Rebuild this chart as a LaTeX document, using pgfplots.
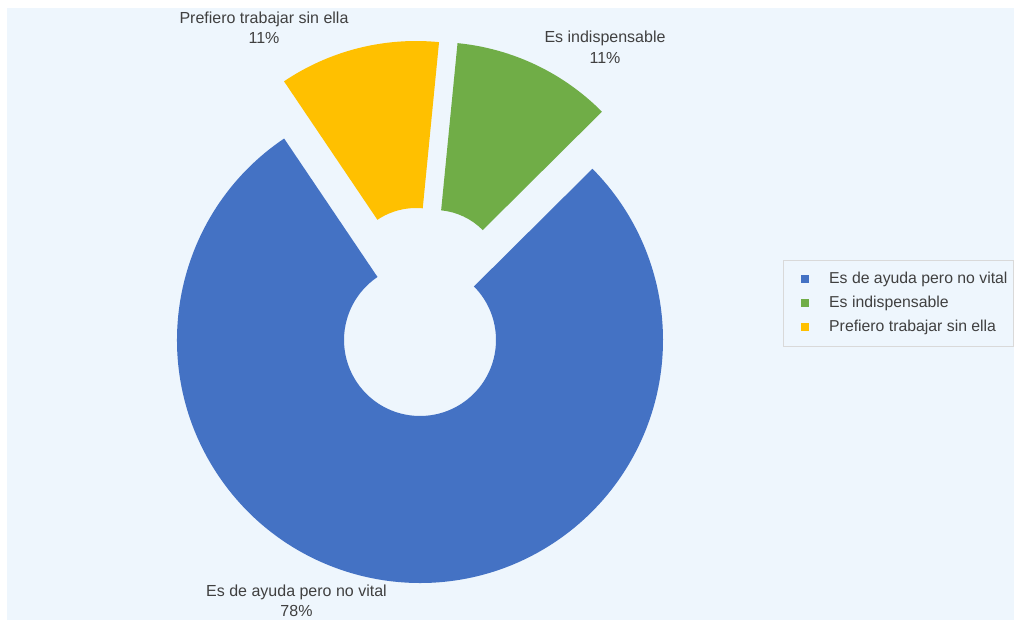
\documentclass[border=0pt]{standalone}
\usepackage{fontspec}
\setmainfont{Liberation Sans}
\usepackage{pgfplots}
\usepackage{pgfplotstable}
\pgfplotsset{compat=1.18}
\usetikzlibrary{calc}

\definecolor{bgblue}{RGB}{238,246,253}
\definecolor{sliceblue}{RGB}{68,114,196}
\definecolor{slicegreen}{RGB}{112,173,71}
\definecolor{sliceyellow}{RGB}{255,192,0}
\definecolor{labelgray}{RGB}{64,64,64}
\definecolor{legendframe}{RGB}{217,217,217}

% share of answers (%)
\pgfplotstableread{
idx value
0 78
1 11
2 11
}\sharetable

\begin{document}
\begin{tikzpicture}
\pgfplotstablegetelem{0}{value}\of\sharetable \edef\vBlue{\pgfplotsretval}
\pgfplotstablegetelem{1}{value}\of\sharetable \edef\vGreen{\pgfplotsretval}
\pgfplotstablegetelem{2}{value}\of\sharetable \edef\vYellow{\pgfplotsretval}
% angles, counter-clockwise from the green slice
\pgfmathsetmacro\aA{44.8}
\pgfmathsetmacro\aB{\aA+3.6*\vGreen}
\pgfmathsetmacro\aC{\aB+3.6*\vYellow}
\pgfmathsetmacro\aD{\aC+3.6*\vBlue}
\begin{axis}[
    width=1014pt, height=620pt, scale only axis,
    xmin=0, xmax=1014, ymin=0, ymax=620,
    hide axis, clip=false,
    legend cell align=left,
    legend image code/.code={\path (0pt,0pt); \fill[#1] (14pt,-4pt) rectangle (22pt,4pt);},
    legend style={at={(axis cs:783,360)}, anchor=north west,
        draw=legendframe, fill=none, text=labelgray,
        font=\fontsize{15.8}{18}\selectfont,
        inner xsep=4pt, inner ysep=10pt,
        nodes={inner sep=2pt, text height=11pt, text depth=3pt},
        row sep=6pt, column sep=18pt},
]
\fill[bgblue] (axis cs:7,0) rectangle (axis cs:1014,612);

% blue slice (not exploded)
\fill[sliceblue] ($(axis cs:420,280)+(\aC:243pt)$) arc[start angle=\aC, end angle=\aD, radius=243pt]
    -- ($(axis cs:420,280)+(\aD:76pt)$) arc[start angle=\aD, end angle=\aC, radius=76pt] -- cycle;
% green slice (exploded)
\fill[slicegreen] ($(axis cs:434.5,342)+(\aA:236pt)$) arc[start angle=\aA, end angle=\aB, radius=236pt]
    -- ($(axis cs:434.5,342)+(\aB:68pt)$) arc[start angle=\aB, end angle=\aA, radius=68pt] -- cycle;
% yellow slice (exploded)
\fill[sliceyellow] ($(axis cs:416,343)+(\aB:236pt)$) arc[start angle=\aB, end angle=\aC, radius=236pt]
    -- ($(axis cs:416,343)+(\aC:69pt)$) arc[start angle=\aC, end angle=\aB, radius=69pt] -- cycle;

\node[align=center, text=labelgray, font=\fontsize{16}{20.5}\selectfont]
    at (axis cs:264,592) {Prefiero trabajar sin ella\\11\%};
\node[align=center, text=labelgray, font=\fontsize{16}{20.5}\selectfont]
    at (axis cs:605,572.5) {Es indispensable\\11\%};
\node[align=center, text=labelgray, font=\fontsize{16}{20.5}\selectfont]
    at (axis cs:296.5,19) {Es de ayuda pero no vital\\78\%};

\addlegendimage{draw=none, fill=sliceblue}
\addlegendentry{Es de ayuda pero no vital}
\addlegendimage{draw=none, fill=slicegreen}
\addlegendentry{Es indispensable}
\addlegendimage{draw=none, fill=sliceyellow}
\addlegendentry{Prefiero trabajar sin ella}
\end{axis}
\pgfresetboundingbox
\useasboundingbox (0,0) rectangle (1014pt,620pt);
\end{tikzpicture}
\end{document}
